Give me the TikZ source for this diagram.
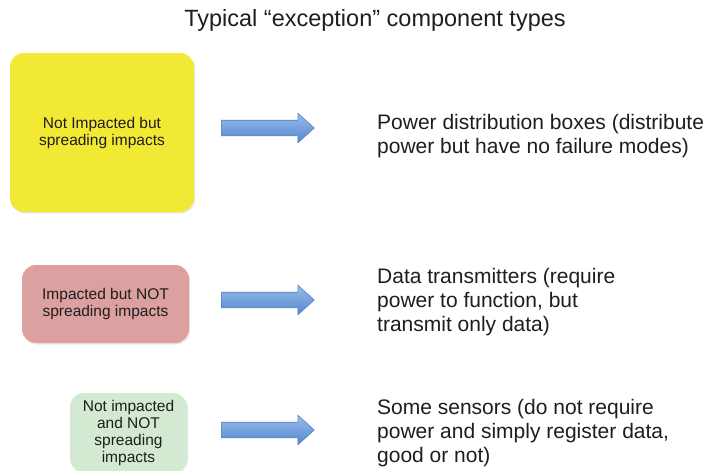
\documentclass[tikz,border=0pt]{standalone}
\usepackage{fontspec}
\setmainfont{Liberation Sans}
\usetikzlibrary{shapes.arrows,shadows}
\definecolor{txt}{RGB}{30,30,30}
\definecolor{ybox}{RGB}{242,233,52}
\definecolor{pbox}{RGB}{221,160,160}
\definecolor{gbox}{RGB}{212,233,210}
\definecolor{arrtop}{RGB}{150,188,235}
\definecolor{arrbot}{RGB}{85,135,205}
\definecolor{arrdraw}{RGB}{90,130,190}
\tikzset{
  catbox/.style={rounded corners=14pt, inner sep=0pt, align=center, text=txt,
    font=\fontsize{15.5}{17}\selectfont,
    drop shadow={shadow xshift=1pt, shadow yshift=-1.5pt, opacity=0.18}},
  blockarrow/.style={single arrow, draw=arrdraw, line width=0.6pt,
    top color=arrtop, bottom color=arrbot, inner xsep=0pt, inner ysep=7.5pt,
    minimum width=29pt, minimum height=93pt, anchor=tail,
    single arrow head extend=7pt, single arrow tip angle=84,
    single arrow head indent=0pt},
  desc/.style={anchor=base west, inner sep=0pt, align=left, text=txt,
    font=\fontsize{21}{24}\selectfont},
}
\begin{document}
\begin{tikzpicture}[x=1pt,y=-1pt]
\useasboundingbox[fill=white] (0,0) rectangle (712,471);
\node[anchor=base, inner sep=0pt, text=txt, font=\fontsize{23.5}{26}\selectfont] (title) at (375,27) {Typical “exception” component types};

\node[catbox, fill=ybox, minimum width=184pt, minimum height=159pt] (ynode) at (102,132.5) {Not Impacted but\\spreading impacts};
\node[catbox, fill=pbox, minimum width=167pt, minimum height=78pt] (pnode) at (105.5,304) {Impacted but NOT\\spreading impacts};
\node[catbox, fill=gbox, minimum width=117pt, minimum height=79pt] (gnode) at (128.5,432.5) {Not impacted\\and NOT\\spreading\\impacts};

\node[blockarrow] (a1) at (221,128) {};
\node[blockarrow] (a2) at (221,300) {};
\node[blockarrow] (a3) at (221,430) {};

% anchor=base of a multi-line node is the baseline of its last line
\node[desc] (d1) at (377,153) {Power distribution boxes (distribute\\power but have no failure modes)};
\node[desc] (d2) at (377,331) {Data transmitters (require\\power to function, but\\transmit only data)};
\node[desc] (d3) at (377,462) {Some sensors (do not require\\power and simply register data,\\good or not)};
\end{tikzpicture}
\end{document}
